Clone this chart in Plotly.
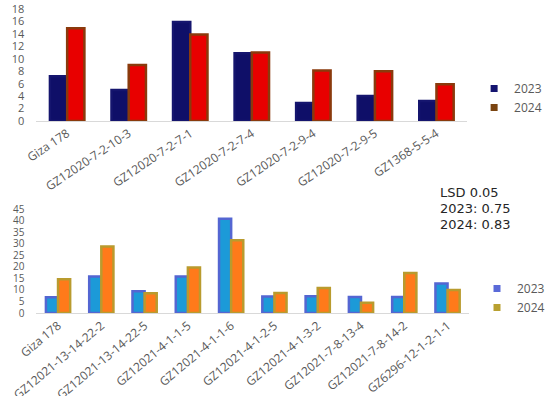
import plotly.graph_objects as go

top_cats = ["Giza 178", "GZ12020-7-2-10-3", "GZ12020-7-2-7-1", "GZ12020-7-2-7-4",
            "GZ12020-7-2-9-4", "GZ12020-7-2-9-5", "GZ1368-5-5-4"]
top_2023 = [7.2, 5.0, 15.9, 10.9, 2.9, 4.0, 3.2]
top_2024 = [14.9, 9.0, 13.9, 11.0, 8.1, 8.0, 5.9]

bot_cats = ["Giza 178", "GZ12021-13-14-22-2", "GZ12021-13-14-22-5", "GZ12021-4-1-1-5",
            "GZ12021-4-1-1-6", "GZ12021-4-1-2-5", "GZ12021-4-1-3-2", "GZ12021-7-8-13-4",
            "GZ12021-7-8-14-2", "GZ6296-12-1-2-1-1"]
bot_2023 = [6.8, 15.8, 9.4, 15.8, 40.8, 7.1, 7.2, 6.9, 6.9, 12.8]
bot_2024 = [14.6, 28.8, 8.5, 19.7, 31.5, 8.6, 10.8, 4.4, 17.3, 9.9]

years = ["2023", "2024"]
lsd_lines = ["LSD 0.05", "2023: 0.75", "2024: 0.83"]

FONT = "Open Sans"
GREY = "#595959"

top_fill = ["#0f0f68", "#e80000"]
top_edge = ["#15156e", "#8a3a0c"]
bot_fill = ["#1c9ad8", "#ff7a1a"]
bot_edge = ["#5466d2", "#b99b2e"]

fig = go.Figure()

for vals, fill, edge in zip([top_2023, top_2024], top_fill, top_edge):
    fig.add_trace(go.Bar(x=top_cats, y=vals, xaxis="x", yaxis="y", showlegend=False,
                         marker=dict(color=fill, line=dict(color=edge, width=2.5))))
for vals, fill, edge in zip([bot_2023, bot_2024], bot_fill, bot_edge):
    fig.add_trace(go.Bar(x=bot_cats, y=vals, xaxis="x2", yaxis="y2", showlegend=False,
                         marker=dict(color=fill, line=dict(color=edge, width=2.5))))

# legend entries (small square markers as in the reference)
for yr, col in zip(years, ["#141470", "#7a4410"]):
    fig.add_trace(go.Scatter(x=[None], y=[None], mode="markers", name=yr, xaxis="x", yaxis="y",
                             marker=dict(symbol="square", size=7, color=col), legend="legend"))
for yr, col in zip(years, ["#5a6ad8", "#b8a030"]):
    fig.add_trace(go.Scatter(x=[None], y=[None], mode="markers", name=yr, xaxis="x2", yaxis="y2",
                             marker=dict(symbol="square", size=7, color=col), legend="legend2"))

base = dict(showgrid=False, zeroline=False, automargin=False, ticks="")

fig.update_layout(
    width=550, height=396,
    margin=dict(l=0, r=0, t=0, b=0),
    paper_bgcolor="white", plot_bgcolor="white",
    barmode="group",
    bargap=0.44,
    font=dict(family=FONT, color=GREY),
    xaxis=dict(domain=[37/550, 475/550], anchor="y", showline=True, linecolor="#d9d9d9",
               tickangle=-34, tickfont=dict(family=FONT, size=12, color=GREY), **base),
    yaxis=dict(domain=[1-121/396, 1-9/396], anchor="x", range=[0, 18], dtick=2,
               showline=False, ticklabelstandoff=11,
               tickfont=dict(family=FONT, size=11, color=GREY), **base),
    xaxis2=dict(domain=[37/550, 477/550], anchor="y2", showline=True, linecolor="#d9d9d9",
                tickangle=-40, tickfont=dict(family=FONT, size=12, color=GREY), **base),
    yaxis2=dict(domain=[1-313/396, 1-209/396], anchor="x2", range=[0, 45], dtick=5,
                showline=False, ticklabelstandoff=11,
                tickfont=dict(family=FONT, size=10, color=GREY), **base),
    legend=dict(x=482/550, y=1-74/396, xanchor="left", yanchor="top",
                font=dict(family=FONT, size=12, color=GREY),
                bgcolor="rgba(0,0,0,0)"),
    legend2=dict(x=485/550, y=1-274/396, xanchor="left", yanchor="top",
                 font=dict(family=FONT, size=12, color=GREY),
                 bgcolor="rgba(0,0,0,0)"),
)

for line, yp in zip(lsd_lines, [192, 208, 224]):
    fig.add_annotation(x=445/550, y=1-yp/396, xref="paper", yref="paper",
                       text=line, showarrow=False, align="left",
                       xanchor="left", yanchor="middle",
                       font=dict(family="DejaVu Sans", size=13, color="#262626"))

fig.write_html("out.html", config={"displayModeBar": False},
               post_script="document.body.style.margin='0';")
